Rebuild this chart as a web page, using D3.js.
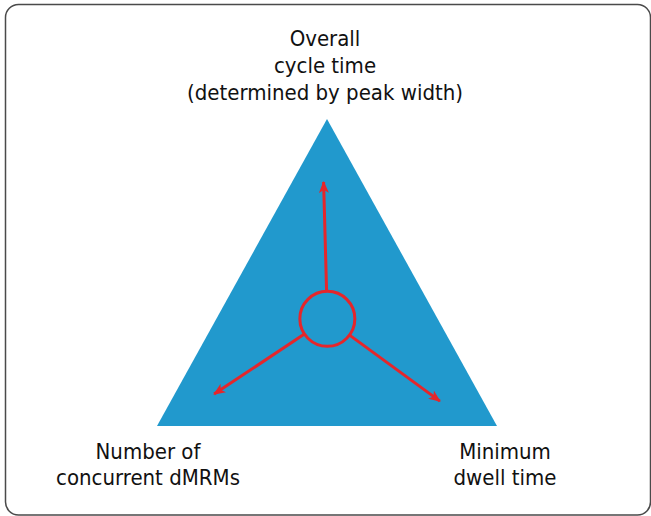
<!DOCTYPE html>
<html>
<head>
<meta charset="utf-8">
<script src="https://cdn.jsdelivr.net/npm/d3@7"></script>
<style>
  html, body { margin: 0; padding: 0; background: #fff; }
  svg { display: block; }
  text { font-family: "DejaVu Sans Condensed", "Liberation Sans Narrow", sans-serif; font-stretch: condensed; font-size: 22px; fill: #111; }
</style>
</head>
<body>
<svg id="chart" width="651" height="516"></svg>
<script>
// ---- data ----
const vertexNames = ["top", "left", "right"];
const vertexX = [50, 0, 100];          // triangle corners, diagram units
const vertexY = [100, 0, 0];
const hubX = [50.1];                    // central circle
const hubY = [34.9];
const arrowTipX = [49.0, 16.8, 83.2];   // arrow tips, diagram units
const arrowTipY = [79.5, 10.4, 8.1];
const topLabel = ["Overall", "cycle time", "(determined by peak width)"];
const leftLabel = ["Number of", "concurrent dMRMs"];
const rightLabel = ["Minimum", "dwell time"];

// ---- scales ----
const x = d3.scaleLinear().domain([0, 100]).range([157, 497]);
const y = d3.scaleLinear().domain([0, 100]).range([426, 119]);

const svg = d3.select("#chart");
const blue = "#2199cd";
const red = "#e5262b";

// frame
svg.append("rect")
  .attr("x", 5.5).attr("y", 4.5)
  .attr("width", 645).attr("height", 510.5)
  .attr("rx", 13).attr("ry", 13)
  .attr("fill", "none").attr("stroke", "#4a4a4a").attr("stroke-width", 1.5);

// triangle
const pts = vertexNames.map((n, i) => [x(vertexX[i]), y(vertexY[i])]);
svg.append("path")
  .attr("d", d3.line()(pts) + "Z")
  .attr("fill", blue);

// arrow marker
svg.append("defs").append("marker")
  .attr("id", "head")
  .attr("markerUnits", "userSpaceOnUse")
  .attr("viewBox", "0 0 12 10")
  .attr("refX", 11).attr("refY", 5)
  .attr("markerWidth", 12).attr("markerHeight", 10)
  .attr("orient", "auto")
  .append("path")
  .attr("d", "M0,0 L12,5 L0,10 L3,5 Z")
  .attr("fill", red);

// hub circle
const cx = x(hubX[0]), cy = y(hubY[0]);
const r = 27.5;

// arrows
arrowTipX.forEach((tx, i) => {
  const px = x(tx), py = y(arrowTipY[i]);
  const dx = px - cx, dy = py - cy;
  const len = Math.hypot(dx, dy);
  svg.append("line")
    .attr("x1", cx + dx / len * r).attr("y1", cy + dy / len * r)
    .attr("x2", px).attr("y2", py)
    .attr("stroke", red).attr("stroke-width", 3)
    .attr("marker-end", "url(#head)");
});

svg.append("circle")
  .attr("cx", cx).attr("cy", cy).attr("r", r)
  .attr("fill", blue).attr("stroke", red).attr("stroke-width", 3);

// labels
function label(lines, cxPos, firstBaseline, step) {
  const t = svg.append("text").attr("text-anchor", "middle");
  lines.forEach((s, i) => {
    t.append("tspan").attr("x", cxPos).attr("y", firstBaseline + i * step).text(s);
  });
}
label(topLabel, 325, 46, 27);
label(leftLabel, 148, 459, 26);
label(rightLabel, 505, 459, 26);
</script>
</body>
</html>
